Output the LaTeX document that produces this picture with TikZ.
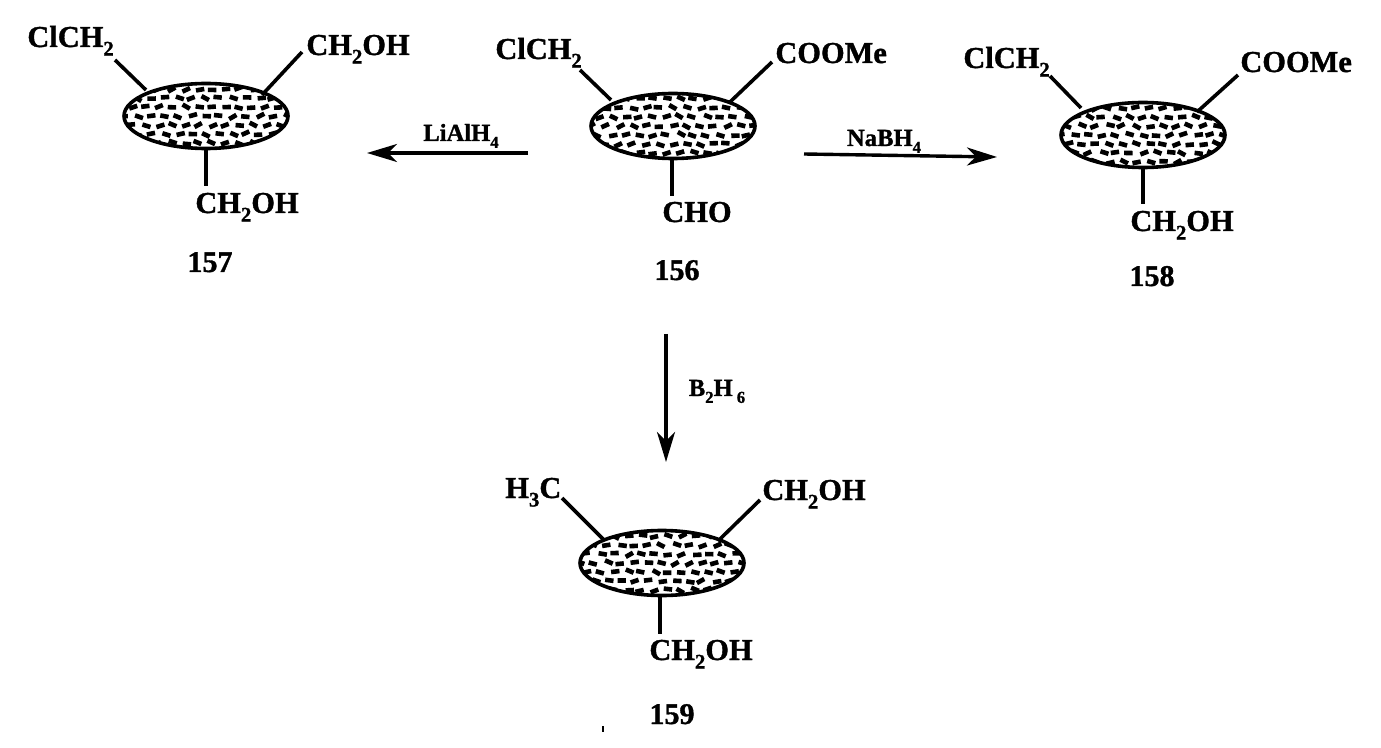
\documentclass[tikz,border=0pt]{standalone}
\usepackage{fontspec}
\setmainfont[BoldFeatures={FakeBold=1.2}]{Liberation Serif}
\usetikzlibrary{shapes.geometric,arrows.meta}
\newcommand{\lowr}[1]{\raisebox{-.28em}{\scalebox{.68}{#1}}}
\tikzset{
  x=0.5pt,y=-0.5pt,
  chem/.style={inner sep=0pt,anchor=base west,font=\fontsize{15.2}{16}\selectfont\bfseries},
  cpd/.style={inner sep=0pt,anchor=base,font=\fontsize{15}{16}\selectfont\bfseries},
  reagent/.style={inner sep=0pt,anchor=base,font=\fontsize{12.3}{14}\selectfont\bfseries},
  blob/.style={draw,ellipse,line width=1.8pt,minimum width=82pt,minimum height=32.5pt,inner sep=0pt},
  bond/.style={line width=1.8pt},
  rxn/.style={line width=1.7pt,-{Stealth[length=15pt,width=9pt,inset=4.5pt]}}
}
% #1 name, #2 x, #3 y
\newcommand{\blobat}[3]{%
  \begin{scope}
    \clip (#2,#3) ellipse [x radius=41pt,y radius=16.5pt];
    \foreach \r in {-3,...,3}{
      \foreach \c in {-6,...,6}{
        \pgfmathsetmacro{\xx}{#2+\c*13.5+mod(abs(\r),2)*6.5+rnd*4-2}
        \pgfmathsetmacro{\yy}{#3+\r*9+rnd*2-1}
        \pgfmathsetmacro{\aa}{rnd*60-30}
        \draw[line width=2.3pt,rotate around={\aa:(\xx,\yy)}] (\xx-4.2,\yy) -- (\xx+4.2,\yy);
      }
    }
  \end{scope}
  \node[blob] (#1) at (#2,#3) {};
}
\begin{document}
\begin{tikzpicture}
\useasboundingbox (0,0) rectangle (1381,748);
\pgfmathsetseed{156}
% 156
\blobat{a}{673}{126}
\node[chem] (acl) at (495,59) {ClCH\lowr{2}};
\node[chem] (aco) at (775,63) {COOMe};
\node[chem] (acho) at (662,222) {CHO};
\node[cpd] (an) at (677,280) {156};
\coordinate (a1) at (580,70); \coordinate (a2) at (611,100);
\coordinate (a3) at (772,62); \coordinate (a4) at (730,102);
\coordinate (a5) at (672,158); \coordinate (a6) at (672,196);
\draw[bond] (a1) -- (a2); \draw[bond] (a3) -- (a4); \draw[bond] (a5) -- (a6);
% 157
\blobat{b}{206}{116}
\node[chem] (bcl) at (27,47) {ClCH\lowr{2}};
\node[chem] (bch) at (306,55) {CH\lowr{2}OH};
\node[chem] (bbot) at (195,213) {CH\lowr{2}OH};
\node[cpd] (bn) at (210,272) {157};
\coordinate (b1) at (115,60); \coordinate (b2) at (146,90);
\coordinate (b3) at (302,52); \coordinate (b4) at (262,95);
\coordinate (b5) at (206,148); \coordinate (b6) at (206,186);
\draw[bond] (b1) -- (b2); \draw[bond] (b3) -- (b4); \draw[bond] (b5) -- (b6);
% 158
\blobat{c}{1143}{135}
\node[chem] (ccl) at (963,68) {ClCH\lowr{2}};
\node[chem] (cco) at (1240,72) {COOMe};
\node[chem] (cbot) at (1130,231) {CH\lowr{2}OH};
\node[cpd] (cn) at (1152,286) {158};
\coordinate (c1) at (1050,76); \coordinate (c2) at (1081,108);
\coordinate (c3) at (1238,75); \coordinate (c4) at (1197,112);
\coordinate (c5) at (1143,167); \coordinate (c6) at (1143,204);
\draw[bond] (c1) -- (c2); \draw[bond] (c3) -- (c4); \draw[bond] (c5) -- (c6);
% 159
\blobat{d}{662}{563}
\node[chem] (dh) at (505,498) {H\lowr{3}C};
\node[chem] (dch) at (762,500) {CH\lowr{2}OH};
\node[chem] (dbot) at (649,660) {CH\lowr{2}OH};
\node[cpd] (dn) at (672,724) {159};
\coordinate (d1) at (562,498); \coordinate (d2) at (604,540);
\coordinate (d3) at (760,500); \coordinate (d4) at (718,541);
\coordinate (d5) at (660,596); \coordinate (d6) at (660,634);
\draw[bond] (d1) -- (d2); \draw[bond] (d3) -- (d4); \draw[bond] (d5) -- (d6);
% reactions
\coordinate (r1s) at (528,153); \coordinate (r1e) at (367,153);
\draw[rxn] (r1s) -- (r1e);
\node[reagent] (r1) at (461,141) {LiAlH\lowr{4}};
\coordinate (r2s) at (804,154); \coordinate (r2e) at (997,157);
\draw[rxn] (r2s) -- (r2e);
\node[reagent] (r2) at (884,146) {NaBH\lowr{4}};
\coordinate (r3s) at (666,334); \coordinate (r3e) at (666,462);
\draw[rxn] (r3s) -- (r3e);
\node[reagent] (r3) at (717,396) {B\lowr{2}H\,\lowr{6}};
\coordinate (t1) at (603,726); \coordinate (t2) at (603,732);
\draw[line width=.8pt] (t1) -- (t2);
\end{tikzpicture}
\end{document}
